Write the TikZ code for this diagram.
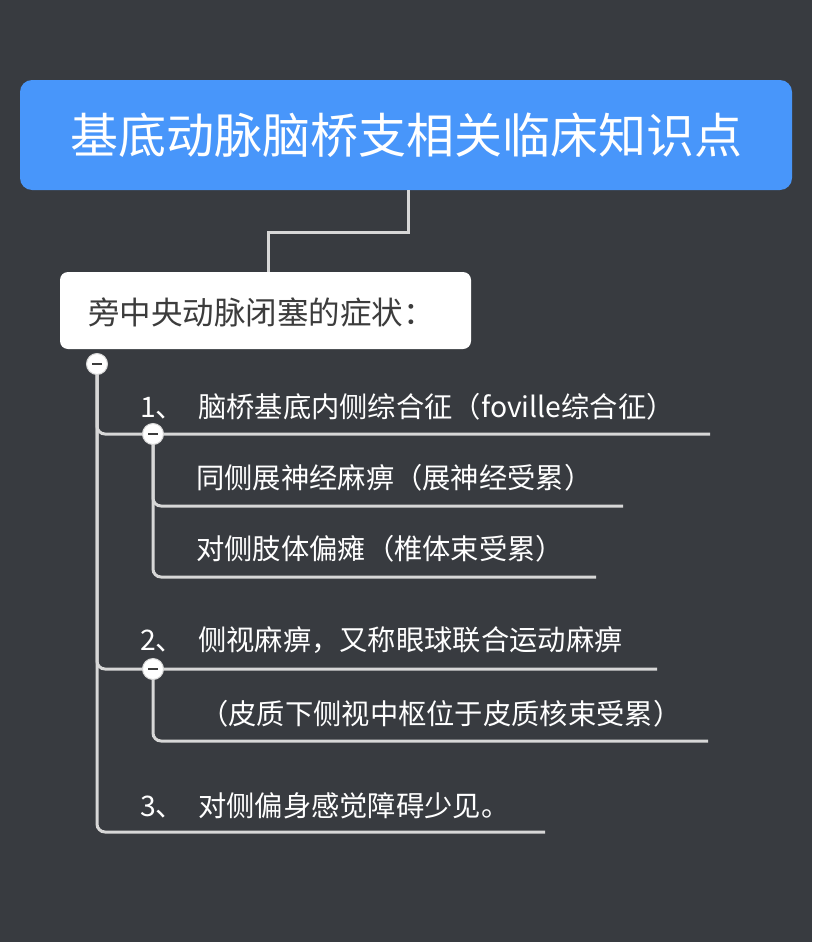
\documentclass[tikz,border=0pt]{standalone}
\usepackage{fontspec}
\setmainfont{Noto Sans CJK SC}
\definecolor{bg}{RGB}{56,59,64}
\definecolor{ttl}{RGB}{72,150,250}
\definecolor{ln}{RGB}{215,215,215}
\definecolor{dk}{RGB}{60,60,60}
\tikzset{
 conn/.style={draw=ln,line width=3pt,rounded corners=8pt},
 lbl/.style={anchor=west,text=white,font=\fontsize{28.3}{32}\selectfont,inner sep=0},
 coll/.style={circle,minimum size=21pt,inner sep=0,draw=ln,fill=white,line width=1pt},
}
\begin{document}
\begin{tikzpicture}[x=1pt,y=-1pt]
\fill[bg] (0,0) rectangle (812,942);
\node[fill=ttl,rounded corners=12pt,minimum width=772pt,minimum height=110pt,text=white,font=\fontsize{48}{52}\selectfont,inner sep=0] (t) at (406,135) {基底动脉脑桥支相关临床知识点};
\node[fill=white,rounded corners=8pt,minimum width=411pt,minimum height=77pt,inner sep=0] (s) at (265.5,310.5) {};
\node[anchor=west,text=dk,font=\fontsize{31.5}{34}\selectfont,inner sep=0] (st) at (88,312) {旁中央动脉闭塞的症状：};
\draw[draw=ln,line width=3pt] (t.south -| 408,0) -- (408,232) -- (268,232) -- (s.north -| 268,0);
\coordinate (e1) at (710,434);
\coordinate (e2) at (657,669);
\coordinate (e3) at (545,832);
\coordinate (f1) at (623,506);
\coordinate (f2) at (596,577);
\coordinate (g1) at (708,741);
\draw[conn] (97,364) -- (97,434) -- (e1);
\draw[conn] (97,364) -- (97,669) -- (e2);
\draw[conn] (97,364) -- (97,832) -- (e3);
\draw[conn] (153,434) -- (153,506) -- (f1);
\draw[conn] (153,434) -- (153,577) -- (f2);
\draw[conn] (153,669) -- (153,741) -- (g1);
\foreach \n/\p in {c0/{97,364},c1/{153,434},c2/{153,669}}{
 \node[coll] (\n) at (\p) {};
 \draw[dk,line width=2.5pt] ([xshift=-5pt]\n.center) -- ([xshift=5pt]\n.center);
}
\node[lbl] (a1) at (140,407) {1、\hspace{14pt}脑桥基底内侧综合征（foville综合征）};
\node[lbl] (b1) at (196,478) {同侧展神经麻痹（展神经受累）};
\node[lbl] (b2) at (196,549) {对侧肢体偏瘫（椎体束受累）};
\node[lbl] (a2) at (140,640) {2、\hspace{14pt}侧视麻痹，又称眼球联合运动麻痹};
\node[lbl] (b3) at (200,714) {（皮质下侧视中枢位于皮质核束受累）};
\node[lbl] (a3) at (140,806) {3、\hspace{14pt}对侧偏身感觉障碍少见。};
\end{tikzpicture}
\end{document}
